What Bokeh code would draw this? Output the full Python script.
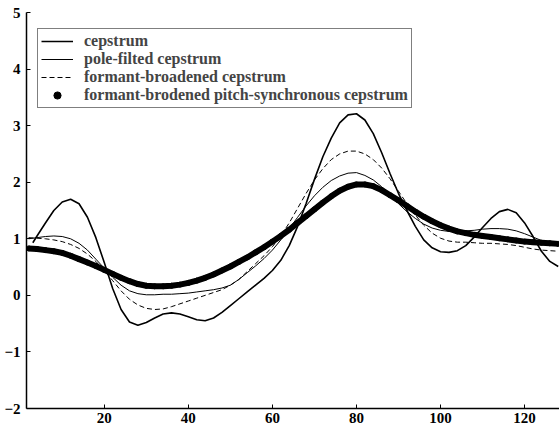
from bokeh.plotting import figure
from bokeh.models import Range1d, Legend, LegendItem, FixedTicker
from bokeh.embed import file_html
from bokeh.resources import INLINE

x = [2, 4, 6, 8, 10, 12, 14, 16, 18, 20, 22, 24, 26, 28, 30, 32, 34, 36, 38, 40,
     42, 44, 46, 48, 50, 52, 54, 56, 58, 60, 62, 64, 66, 68, 70, 72, 74, 76, 78, 80,
     82, 84, 86, 88, 90, 92, 94, 96, 98, 100, 102, 104, 106, 108, 110, 112, 114, 116, 118, 120,
     122, 124, 126, 128]

cep_x = [3] + x[1:]
cepstrum = [0.93, 1.05, 1.28, 1.50, 1.65, 1.70, 1.62, 1.38, 1.02, 0.58, 0.12, -0.25, -0.47, -0.53, -0.48, -0.40, -0.33, -0.31, -0.33, -0.38,
            -0.43, -0.45, -0.40, -0.30, -0.18, -0.06, 0.06, 0.18, 0.30, 0.44, 0.62, 0.88, 1.22, 1.62, 2.05, 2.45, 2.78, 3.05, 3.19, 3.21,
            3.10, 2.86, 2.52, 2.15, 1.80, 1.50, 1.22, 0.98, 0.84, 0.77, 0.76, 0.79, 0.88, 1.03, 1.20, 1.36, 1.48, 1.52, 1.46, 1.28,
            1.04, 0.78, 0.60, 0.51]

pole = [1.00, 1.02, 1.04, 1.05, 1.04, 1.00, 0.92, 0.80, 0.64, 0.48, 0.32, 0.18, 0.08, 0.03, 0.01, 0.01, 0.02, 0.02, 0.03, 0.04,
        0.06, 0.08, 0.10, 0.13, 0.18, 0.28, 0.40, 0.52, 0.65, 0.80, 0.98, 1.18, 1.38, 1.58, 1.76, 1.91, 2.03, 2.11, 2.16, 2.17,
        2.12, 2.04, 1.92, 1.78, 1.62, 1.48, 1.36, 1.26, 1.19, 1.15, 1.13, 1.13, 1.14, 1.15, 1.17, 1.18, 1.18, 1.17, 1.14, 1.09,
        1.03, 0.97, 0.92, 0.88]

formant = [1.02, 1.01, 1.00, 0.98, 0.95, 0.90, 0.83, 0.73, 0.60, 0.44, 0.26, 0.08, -0.07, -0.17, -0.23, -0.25, -0.24, -0.20, -0.15, -0.10,
           -0.05, 0.00, 0.05, 0.10, 0.18, 0.28, 0.42, 0.56, 0.70, 0.86, 1.05, 1.28, 1.54, 1.80, 2.04, 2.24, 2.40, 2.50, 2.55, 2.55,
           2.50, 2.40, 2.25, 2.06, 1.84, 1.62, 1.42, 1.24, 1.10, 1.01, 0.96, 0.94, 0.94, 0.93, 0.92, 0.92, 0.91, 0.90, 0.88, 0.85,
           0.82, 0.80, 0.79, 0.78]

pitch_sync = [0.83, 0.82, 0.80, 0.78, 0.75, 0.70, 0.64, 0.58, 0.52, 0.45, 0.38, 0.31, 0.25, 0.20, 0.17, 0.16, 0.16, 0.17, 0.19, 0.22,
              0.26, 0.31, 0.37, 0.44, 0.51, 0.59, 0.67, 0.76, 0.85, 0.95, 1.05, 1.16, 1.28, 1.40, 1.52, 1.64, 1.75, 1.85, 1.92, 1.96,
              1.96, 1.93, 1.86, 1.77, 1.68, 1.58, 1.48, 1.39, 1.31, 1.24, 1.18, 1.13, 1.10, 1.07, 1.05, 1.03, 1.01, 0.99, 0.97, 0.95,
              0.94, 0.93, 0.92, 0.91]

labels = ["cepstrum", "pole-filted cepstrum", "formant-broadened cepstrum",
          "formant-brodened pitch-synchronous cepstrum"]
x_ticks = [20, 40, 60, 80, 100, 120]
y_ticks = [-2, -1, 0, 1, 2, 3, 4, 5]

FONT = "Liberation Serif"

p = figure(width=559, height=430, output_backend="svg", toolbar_location=None,
           x_range=Range1d(1.5, 128.3), y_range=Range1d(-2, 5),
           min_border_left=26, min_border_right=0, min_border_top=12, min_border_bottom=22)
p.outline_line_color = None
p.xgrid.visible = False
p.ygrid.visible = False

for ax in (p.xaxis[0], p.yaxis[0]):
    ax.major_tick_in = 4
    ax.major_tick_out = 0
    ax.minor_tick_in = 0
    ax.minor_tick_out = 0
    ax.axis_line_color = "black"
    ax.axis_line_width = 1.5
    ax.major_label_text_font = FONT
    ax.major_label_text_font_style = "bold"
    ax.major_label_text_font_size = "15px"
    ax.major_label_text_color = "black"
p.xaxis.ticker = FixedTicker(ticks=x_ticks)
p.yaxis.ticker = FixedTicker(ticks=y_ticks)
p.yaxis.major_label_standoff = 6
p.xaxis.major_label_standoff = 4

r_thick = p.line(x, pitch_sync, line_color="black", line_width=6)
r_dots = p.scatter(x, pitch_sync, marker="circle", size=5, fill_color="black", line_color="black")
r_form = p.line(x, formant, line_color="black", line_width=1, line_dash="5 3")
r_pole = p.line(x, pole, line_color="black", line_width=1)
r_cep = p.line(cep_x, cepstrum, line_color="black", line_width=1.6)

legend = Legend(items=[
    LegendItem(label=labels[0], renderers=[r_cep]),
    LegendItem(label=labels[1], renderers=[r_pole]),
    LegendItem(label=labels[2], renderers=[r_form]),
    LegendItem(label=labels[3], renderers=[r_dots]),
], location=(11, 300))
legend.border_line_color = "black"
legend.border_line_width = 1.2
legend.label_text_font = FONT
legend.label_text_font_style = "bold"
legend.label_text_font_size = "16px"
legend.label_height = 18
legend.glyph_height = 18
legend.glyph_width = 32
legend.label_standoff = 11
legend.spacing = 0
legend.padding = 3
legend.margin = 0
legend.background_fill_alpha = 1
p.add_layout(legend, "center")

open("out.html", "w").write(file_html(p, INLINE))
